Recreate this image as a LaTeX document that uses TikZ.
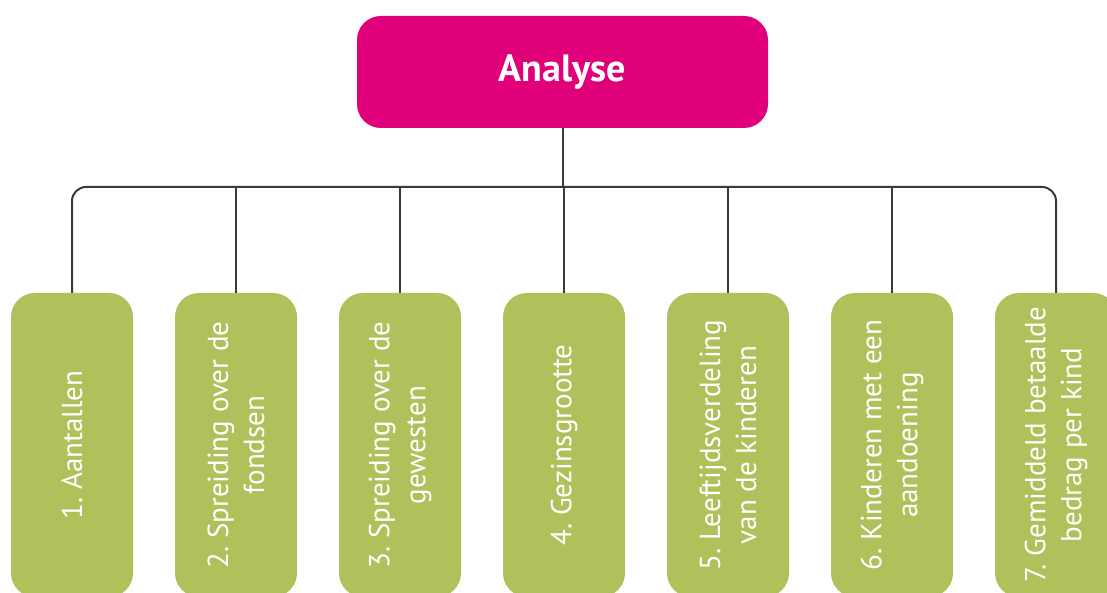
\documentclass[tikz,border=0pt]{standalone}
\usepackage{fontspec}
\setmainfont{PT Sans}
\frenchspacing
\definecolor{magentabox}{HTML}{E0007A}
\definecolor{greenbox}{HTML}{AFC15B}
\definecolor{linegray}{HTML}{3A3A3A}
\begin{document}
\begin{tikzpicture}[x=1pt,y=-1pt,
  topbox/.style={fill=magentabox, rounded corners=24pt, minimum width=411pt, minimum height=112pt, inner sep=0pt,
    text=white, font=\fontsize{38}{42}\selectfont\bfseries},
  leafbox/.style={fill=greenbox, rounded corners=24pt, minimum width=122pt, minimum height=304pt, inner sep=0pt},
  leaftext/.style={rotate=90, text=white, align=center, font=\fontsize{29}{36}\selectfont},
  conn/.style={draw=linegray, line width=2pt}]
\useasboundingbox (0,0) rectangle (1107,593);
\clip (0,0) rectangle (1107,593);
\fill[white] (0,0) rectangle (1107,593);
\node[topbox] (top) at (562.5,72) {Analyse};
\foreach \i/\t in {1/{1. Aantallen},
                   2/{2. Spreiding over de\\fondsen},
                   3/{3. Spreiding over de\\gewesten},
                   4/{4. Gezinsgrootte},
                   5/{5. Leeftijdsverdeling\\van de kinderen},
                   6/{6. Kinderen met een\\aandoening},
                   7/{7. Gemiddeld betaalde\\bedrag per kind}} {
  \node[leafbox] (c\i) at ({72+164*(\i-1)},445) {};
  \node[leaftext] (t\i) at (c\i.center) {\t};
}
\coordinate (hub) at (562.5,187);
\draw[conn] (top.south) -- (hub);
\draw[conn, rounded corners=14pt] (c1.north) |- (hub) -| (c7.north);
\foreach \i in {2,...,6} {
  \draw[conn] (c\i.north) -- (c\i.north |- hub);
}
\end{tikzpicture}
\end{document}
